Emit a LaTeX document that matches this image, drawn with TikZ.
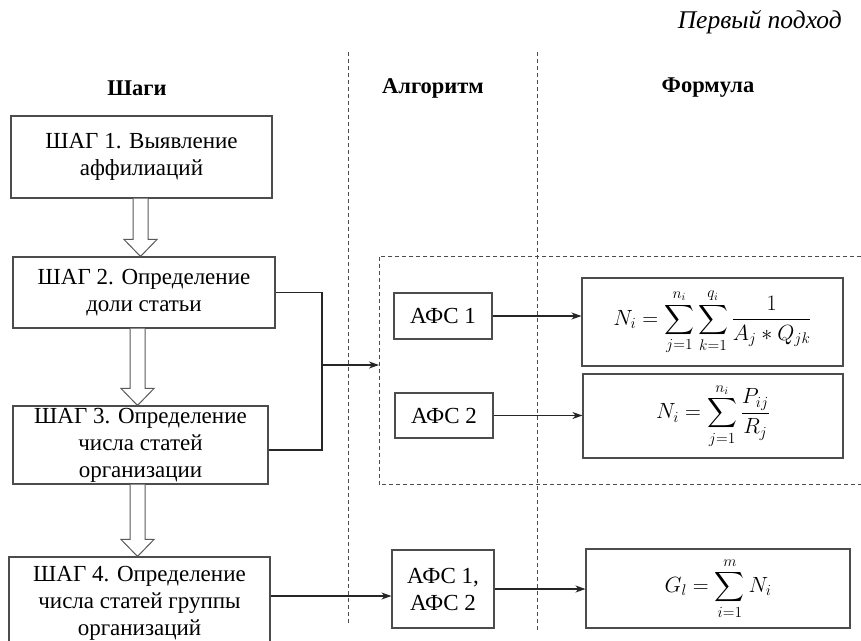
\RequirePackage{fix-cm}
\documentclass[tikz,border=0pt]{standalone}
\usepackage{amsmath}
\usepackage[no-math]{fontspec}
\setmainfont{Liberation Serif}
\usetikzlibrary{calc,arrows.meta}
\tikzset{
  box/.style={draw=black!70, line width=1.1pt, align=center, inner sep=0pt,
    font=\fontsize{23}{27}\selectfont},
  fbox/.style={draw=black!70, line width=1.1pt, inner sep=0pt,
    font=\fontsize{22}{26}\selectfont},
  hdr/.style={font=\fontsize{22.5}{25}\selectfont\bfseries},
  sep/.style={draw=black!70, line width=0.9pt, dash pattern=on 4pt off 3pt},
  conn/.style={draw=black!85, line width=1.1pt},
  arr/.style={conn, -{Stealth[length=10pt,width=7pt,inset=3pt]}},
  blk/.style={draw=black!65, line width=1pt, fill=white, line join=miter},
}
\newcommand\blockarrow[3]{%
  \draw[blk] let \p1=(#2.south), \p2=(#3.north) in
    (#1pt-7.5pt,\y1) -- (#1pt-7.5pt,\y2+17pt) -- (#1pt-16.5pt,\y2+17pt) --
    (#1pt,\y2) -- (#1pt+16.5pt,\y2+17pt) -- (#1pt+7.5pt,\y2+17pt) -- (#1pt+7.5pt,\y1);}
\begin{document}
\begin{tikzpicture}[x=1pt,y=-1pt]
\useasboundingbox (0,0) rectangle (861,640);

% title and headers
\node[anchor=base east, inner sep=0pt, font=\fontsize{25.5}{29}\selectfont\itshape] (title) at (842,28) {Первый подход};
\node[hdr] (h1) at (137,88) {Шаги};
\node[hdr] (h2) at (433,88) {Алгоритм};
\node[hdr] (h3) at (708,88) {Формула};

% separators
\draw[sep] (348,52) -- (348,623);
\draw[sep] (537,52) -- (537,630);

% dashed group frame
\node[minimum width=482pt, minimum height=228pt, anchor=north west, inner sep=0pt] (grp) at (379,256) {};
\draw[sep] (grp.north east) -- (grp.north west) -- (grp.south west) -- (grp.south east);

% steps
\node[box, minimum width=261pt, minimum height=82pt] (s1) at (141.5,157) {ШАГ 1. Выявление\\аффилиаций};
\node[box, minimum width=262pt, minimum height=71pt] (s2) at (144,292.5) {ШАГ 2. Определение\\доли статьи};
\node[box, minimum width=255pt, minimum height=78pt] (s3) at (140.5,445) {ШАГ 3. Определение\\числа статей\\организации};
\node[box, minimum width=261pt, minimum height=92pt] (s4) at (139.5,603) {ШАГ 4. Определение\\числа статей группы\\организаций};

% algorithms
\node[box, minimum width=98pt, minimum height=46pt] (a1) at (443,316) {АФС 1};
\node[box, minimum width=98pt, minimum height=45pt] (a2) at (444,415.5) {АФС 2};
\node[box, minimum width=102pt, minimum height=78pt] (a3) at (443,589) {АФС 1,\\АФС 2};

% formulas
\node[fbox, minimum width=261pt, minimum height=88pt] (f1) at (712.5,322)
  {$\displaystyle N_i = \sum_{j=1}^{n_i}\sum_{k=1}^{q_i}\frac{1}{A_j * Q_{jk}}$};
\node[fbox, minimum width=260pt, minimum height=84pt] (f2) at (713,416)
  {$\displaystyle N_i = \sum_{j=1}^{n_i}\frac{P_{ij}}{R_j}$};
\node[fbox, minimum width=264pt, minimum height=79pt] (f3) at (718,588.5)
  {$\displaystyle G_l = \sum_{i=1}^{m} N_i$};

% block arrows between steps
\blockarrow{140.5}{s1}{s2}
\blockarrow{137.5}{s2}{s3}
\blockarrow{137.5}{s3}{s4}

% connectors
\coordinate (m) at (322,365);
\coordinate (s4out) at ($(s4.east)+(0pt,7pt)$);
\draw[conn] (s2.east) -| (m) |- ($(s3.east)+(0pt,-5pt)$);
\draw[arr] (m) -- (m -| grp.west);
\draw[arr] (a1.east) -- (a1.east -| f1.west);
\draw[arr] (a2.east) -- (a2.east -| f2.west);
\draw[arr] (s4out) -- (s4out -| a3.west);
\draw[arr] (a3.east) -- (a3.east -| f3.west);
\end{tikzpicture}
\end{document}
